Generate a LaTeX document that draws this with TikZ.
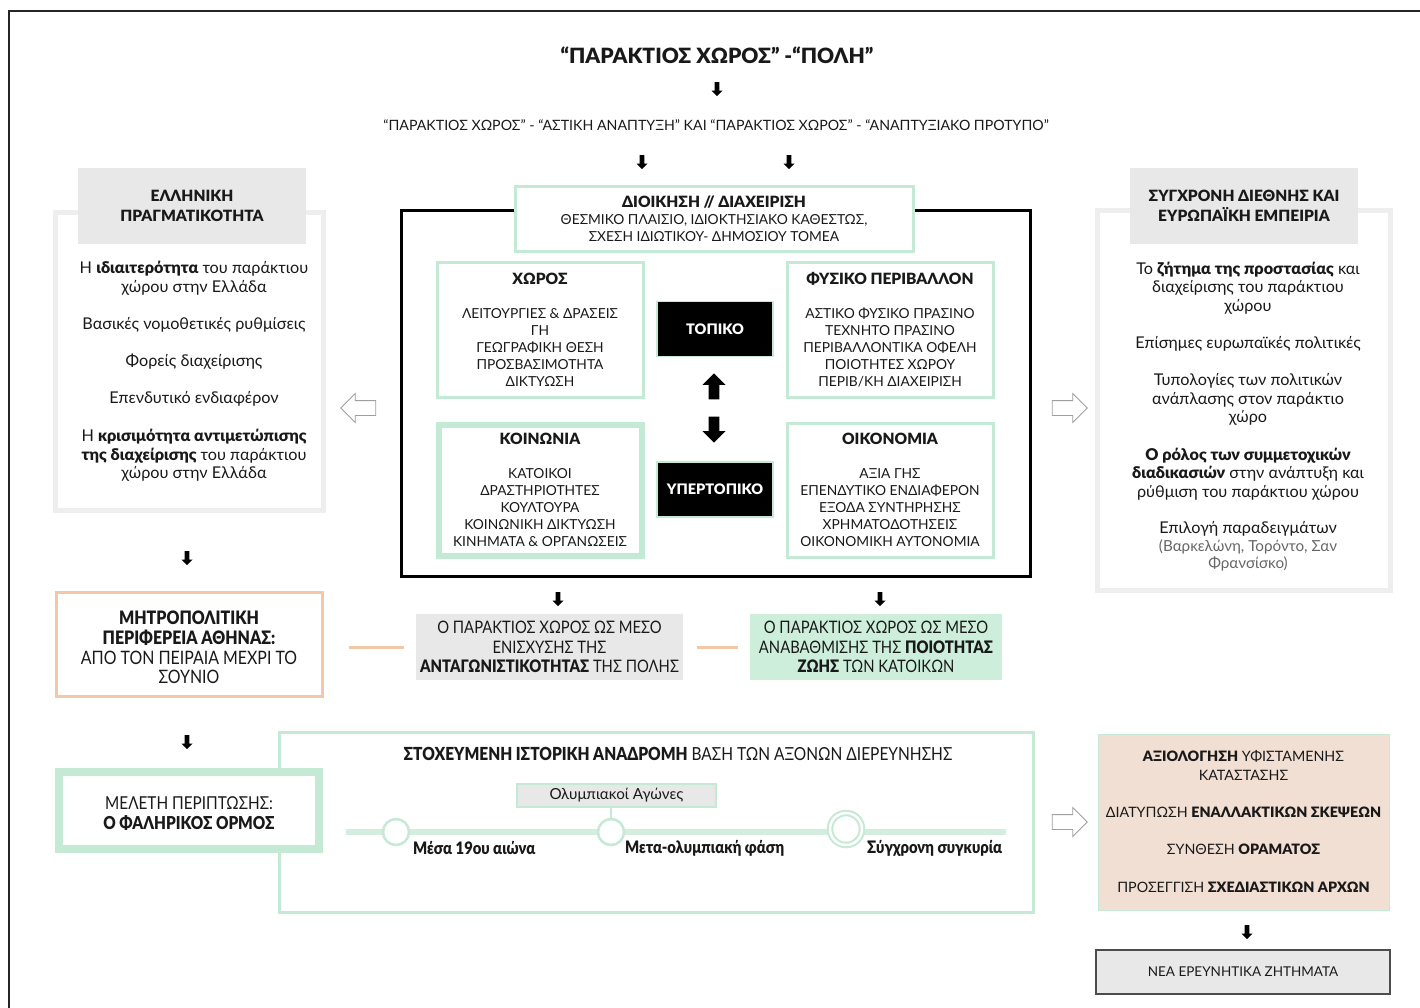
\documentclass[tikz,border=0pt]{standalone}
\usepackage{fontspec}
\setmainfont{Lato}[BoldFont={Lato Black}]
\newfontfamily\condfont{Lato}[FakeStretch=0.86, BoldFont={Lato Black}]
\usetikzlibrary{shapes.arrows}

\definecolor{mint}{RGB}{196,233,213}
\definecolor{mintfill}{RGB}{204,238,218}
\definecolor{graybox}{RGB}{232,232,232}
\definecolor{framegray}{RGB}{238,238,238}
\definecolor{peach}{RGB}{243,200,168}
\definecolor{peachfill}{RGB}{242,223,211}

\tikzset{
    base/.style={inner sep=0pt, align=center, text=black!90},
    body/.style={base, font=\fontsize{16.2}{18.6}\selectfont},
    cond/.style={base, font=\condfont\fontsize{17.2}{19.3}\selectfont},
    panel/.style={rectangle, draw=mint, line width=3pt, fill=white, inner sep=0pt, align=center,
        text=black!90, font=\fontsize{13.8}{17}\selectfont},
    header/.style={rectangle, fill=graybox, inner sep=0pt, align=center, text=black!90,
        font=\fontsize{15.5}{19.5}\selectfont\bfseries, minimum width=228pt, minimum height=76pt},
    sideframe/.style={rectangle, draw=framegray, line width=5pt, fill=white, inner sep=0pt},
    blackbox/.style={rectangle, fill=black, draw=mint, line width=1.5pt, text=white, inner sep=0pt,
        font=\fontsize{14.5}{17}\selectfont\bfseries, minimum width=116pt, minimum height=55pt},
    blockarrow/.style={single arrow, fill=black, draw=none, inner sep=2pt, minimum height=14pt,
        minimum width=11pt, single arrow head extend=3pt, shape border rotate=270},
    bigarrow/.style={single arrow, fill=black, draw=none, inner sep=5pt, minimum height=26pt,
        minimum width=23pt, single arrow head extend=6pt},
    openarrow/.style={single arrow, draw=gray!75, fill=white, line width=0.8pt, inner sep=7pt,
        minimum height=35pt, minimum width=28pt, single arrow head extend=7pt},
    peachline/.style={draw=peach, line width=3pt},
    stage/.style={circle, draw=mint, line width=2.5pt, fill=white, inner sep=0pt, minimum size=26pt},
    stagelabel/.style={base, anchor=west, font=\condfont\bfseries\fontsize{17.2}{18}\selectfont}
}

\begin{document}
\begin{tikzpicture}[x=1pt, y=-1pt]
    \useasboundingbox (0,0) rectangle (1420,1007);
    % Page frame
    \draw[line width=2.5pt, black!85] (9,1012) |- (1425,11);

    % Title and lead-in
    \node[base, font=\bfseries\fontsize{21}{26}\selectfont] (title) at (717,55)
        {“ΠΑΡΑΚΤΙΟΣ ΧΩΡΟΣ” -“ΠΟΛΗ”};
    \node[blockarrow] (a1) at (717,88) {};
    \node[base, font=\fontsize{14.2}{16}\selectfont] (theme) at (716,125)
        {“ΠΑΡΑΚΤΙΟΣ ΧΩΡΟΣ” - “ΑΣΤΙΚΗ ΑΝΑΠΤΥΞΗ” ΚΑΙ “ΠΑΡΑΚΤΙΟΣ ΧΩΡΟΣ” - “ΑΝΑΠΤΥΞΙΑΚΟ ΠΡΟΤΥΠΟ”};
    \node[blockarrow] (a2) at (642,161) {};
    \node[blockarrow] (a3) at (789,161) {};

    % Left column
    \node[sideframe, minimum width=268pt, minimum height=298pt] (lframe) at (189,361) {};
    \node[header] (lhead) at (192,206) {ΕΛΛΗΝΙΚΗ\\ΠΡΑΓΜΑΤΙΚΟΤΗΤΑ};
    \node[body] (l1) at (194,278.5) {Η \textbf{ιδιαιτερότητα} του παράκτιου\\χώρου στην Ελλάδα};
    \node[body] (l2) at (194,325) {Βασικές νομοθετικές ρυθμίσεις};
    \node[body] (l3) at (194,362) {Φορείς διαχείρισης};
    \node[body] (l4) at (194,399) {Επενδυτικό ενδιαφέρον};
    \node[body] (l5) at (194,455.5) {Η \textbf{κρισιμότητα αντιμετώπισης}\\\textbf{της διαχείρισης} του παράκτιου\\χώρου στην Ελλάδα};
    \node[openarrow, shape border rotate=180] (lout) at (362,408) {};

    % Right column
    \node[sideframe, minimum width=293pt, minimum height=380pt] (rframe) at (1243.5,400) {};
    \node[header] (rhead) at (1244,206) {ΣΥΓΧΡΟΝΗ ΔΙΕΘΝΗΣ ΚΑΙ\\ΕΥΡΩΠΑΪΚΉ ΕΜΠΕΙΡΙΑ};
    \node[body] (r1) at (1248,288) {Το \textbf{ζήτημα της προστασίας} και\\διαχείρισης του παράκτιου\\χώρου};
    \node[body] (r2) at (1248,344) {Επίσημες ευρωπαϊκές πολιτικές};
    \node[body] (r3) at (1248,399.5) {Τυπολογίες των πολιτικών\\ανάπλασης στον παράκτιο\\χώρο};
    \node[body] (r4) at (1248,474) {\textbf{Ο ρόλος των συμμετοχικών}\\\textbf{διαδικασιών} στην ανάπτυξη και\\ρύθμιση του παράκτιου χώρου};
    \node[body] (r5) at (1248,529) {Επιλογή παραδειγμάτων};
    \node[base, text=black!60, font=\fontsize{15.2}{17.5}\selectfont] (r6) at (1248,555.5)
        {(Βαρκελώνη, Τορόντο, Σαν\\Φρανσίσκο)};
    \node[openarrow] (rout) at (1066,408) {};

    % Central axes
    \node[rectangle, draw=black, line width=3pt, inner sep=0pt, minimum width=629pt,
        minimum height=366pt] (axes) at (715.5,393) {};
    \node[panel, minimum width=398pt, minimum height=65pt] (admin) at (714,218.5)
        {{\fontsize{15.5}{19}\selectfont\bfseries ΔΙΟΙΚΗΣΗ // ΔΙΑΧΕΙΡΙΣΗ}\\
         ΘΕΣΜΙΚΟ ΠΛΑΙΣΙΟ, ΙΔΙΟΚΤΗΣΙΑΚΟ ΚΑΘΕΣΤΩΣ,\\ΣΧΕΣΗ ΙΔΙΩΤΙΚΟΥ- ΔΗΜΟΣΙΟΥ ΤΟΜΕΑ};
    \node[panel, minimum width=206pt, minimum height=135pt] (space) at (540,329.5)
        {{\fontsize{15.5}{17}\selectfont\bfseries ΧΩΡΟΣ}\\[17pt]
         ΛΕΙΤΟΥΡΓΙΕΣ \& ΔΡΑΣΕΙΣ\\ΓΗ\\ΓΕΩΓΡΑΦΙΚΗ ΘΕΣΗ\\ΠΡΟΣΒΑΣΙΜΟΤΗΤΑ\\ΔΙΚΤΥΩΣΗ};
    \node[panel, minimum width=206pt, minimum height=135pt] (nature) at (890,329.5)
        {{\fontsize{15.5}{17}\selectfont\bfseries ΦΥΣΙΚΟ ΠΕΡΙΒΑΛΛΟΝ}\\[17pt]
         ΑΣΤΙΚΟ ΦΥΣΙΚΟ ΠΡΑΣΙΝΟ\\ΤΕΧΝΗΤΟ ΠΡΑΣΙΝΟ\\ΠΕΡΙΒΑΛΛΟΝΤΙΚΑ ΟΦΕΛΗ\\ΠΟΙΟΤΗΤΕΣ ΧΩΡΟΥ\\ΠΕΡΙΒ/ΚΗ ΔΙΑΧΕΙΡΙΣΗ};
    \node[panel, line width=6pt, minimum width=203pt, minimum height=131pt] (society) at (540,490)
        {{\fontsize{15.5}{17}\selectfont\bfseries ΚΟΙΝΩΝΙΑ}\\[17pt]
         ΚΑΤΟΙΚΟΙ\\ΔΡΑΣΤΗΡΙΟΤΗΤΕΣ\\ΚΟΥΛΤΟΥΡΑ\\ΚΟΙΝΩΝΙΚΗ ΔΙΚΤΥΩΣΗ\\ΚΙΝΗΜΑΤΑ \& ΟΡΓΑΝΩΣΕΙΣ};
    \node[panel, minimum width=206pt, minimum height=134pt] (economy) at (890,490)
        {{\fontsize{15.5}{17}\selectfont\bfseries ΟΙΚΟΝΟΜΙΑ}\\[17pt]
         ΑΞΙΑ ΓΗΣ\\ΕΠΕΝΔΥΤΙΚΟ ΕΝΔΙΑΦΕΡΟΝ\\ΕΞΟΔΑ ΣΥΝΤΗΡΗΣΗΣ\\ΧΡΗΜΑΤΟΔΟΤΗΣΕΙΣ\\ΟΙΚΟΝΟΜΙΚΗ ΑΥΤΟΝΟΜΙΑ};
    \node[blackbox] (local) at (715,329) {ΤΟΠΙΚΟ};
    \node[blackbox] (supra) at (715,489.5) {ΥΠΕΡΤΟΠΙΚΟ};
    \node[bigarrow, shape border rotate=90] (up) at (714,389) {};
    \node[bigarrow, shape border rotate=270] (down) at (714,427) {};

    % Outcomes
    \node[blockarrow] (a4) at (187,557) {};
    \node[blockarrow] (a6) at (558,598) {};
    \node[blockarrow] (a7) at (880,598) {};
    \node[rectangle, draw=peach, line width=3pt, fill=white, minimum width=266pt, minimum height=104pt,
        cond, font=\condfont\fontsize{18.5}{19.8}\selectfont, text height=80pt] (metro) at (189,644)
        {\textbf{ΜΗΤΡΟΠΟΛΙΤΙΚΗ}\\\textbf{ΠΕΡΙΦΕΡΕΙΑ ΑΘΗΝΑΣ:}\\ΑΠΟ ΤΟΝ ΠΕΙΡΑΙΑ ΜΕΧΡΙ ΤΟ\\ΣΟΥΝΙΟ};
    \node[rectangle, fill=graybox, minimum width=267pt, minimum height=66pt, cond] (compet) at (549.5,647)
        {Ο ΠΑΡΑΚΤΙΟΣ ΧΩΡΟΣ ΩΣ ΜΕΣΟ\\ΕΝΙΣΧΥΣΗΣ ΤΗΣ\\\textbf{ΑΝΤΑΓΩΝΙΣΤΙΚΟΤΗΤΑΣ} ΤΗΣ ΠΟΛΗΣ};
    \node[rectangle, fill=mintfill, minimum width=252pt, minimum height=66pt, cond] (quality) at (876,647)
        {Ο ΠΑΡΑΚΤΙΟΣ ΧΩΡΟΣ ΩΣ ΜΕΣΟ\\ΑΝΑΒΑΘΜΙΣΗΣ ΤΗΣ \textbf{ΠΟΙΟΤΗΤΑΣ}\\\textbf{ΖΩΗΣ} ΤΩΝ ΚΑΤΟΙΚΩΝ};
    \draw[peachline] ([xshift=25pt]metro.east |- compet.west) -- ([xshift=-12pt]compet.west);
    \draw[peachline] ([xshift=14pt]compet.east) -- ([xshift=-12pt]quality.west);

    % Timeline
    \node[blockarrow] (a5) at (187,741) {};
    \node[rectangle, draw=mint, line width=3pt, fill=white, minimum width=754pt, minimum height=180pt]
        (history) at (656,822) {};
    \node[base, font=\condfont\fontsize{18}{19}\selectfont] (htitle) at (678,754)
        {\textbf{ΣΤΟΧΕΥΜΕΝΗ ΙΣΤΟΡΙΚΗ ΑΝΑΔΡΟΜΗ} ΒΑΣΗ ΤΩΝ ΑΞΟΝΩΝ ΔΙΕΡΕΥΝΗΣΗΣ};
    \coordinate (tstart) at (346,832);
    \coordinate (tend) at (1006,832);
    \draw[mint!75, line width=6pt] (tstart) -- (tend);
    \node[rectangle, fill=graybox, draw=mint, line width=1.5pt, minimum width=199pt, minimum height=23pt,
        base, font=\fontsize{15.2}{17}\selectfont] (olymp) at (616.5,795.5) {Ολυμπιακοί Αγώνες};
    \node[stage] (s1) at (396,832) {};
    \node[stage] (s2) at (611,832) {};
    \node[stage, minimum size=32pt, line width=2pt, double=white, double distance=2.5pt] (s3) at (846,829) {};
    \draw[mint, line width=2.5pt] (s2 |- olymp.south) -- (s2.north);
    \node[stagelabel] (m1) at (413,848) {Μέσα 19ου αιώνα};
    \node[stagelabel] (m2) at (625,848) {Μετα-ολυμπιακή φάση};
    \node[stagelabel] (m3) at (867,848) {Σύγχρονη συγκυρία};
    \node[rectangle, draw=mint, line width=8pt, fill=white, minimum width=260pt, minimum height=77pt,
        cond, font=\condfont\fontsize{17.8}{20}\selectfont, text height=38.5pt] (case) at (189,810.5)
        {ΜΕΛΕΤΗ ΠΕΡΙΠΤΩΣΗΣ:\\\textbf{Ο ΦΑΛΗΡΙΚΟΣ ΟΡΜΟΣ}};

    % Proposals
    \node[openarrow] (pout) at (1066,822) {};
    \node[rectangle, fill=peachfill, draw=mint, line width=1pt, minimum width=291pt, minimum height=176pt,
        base, font=\fontsize{14.3}{19}\selectfont] (proposal) at (1243.5,822)
        {\textbf{ΑΞΙΟΛΟΓΗΣΗ} ΥΦΙΣΤΑΜΕΝΗΣ\\ΚΑΤΑΣΤΑΣΗΣ\\[18pt]
         ΔΙΑΤΥΠΩΣΗ \textbf{ΕΝΑΛΛΑΚΤΙΚΩΝ ΣΚΕΨΕΩΝ}\\[18pt]
         ΣΥΝΘΕΣΗ \textbf{ΟΡΑΜΑΤΟΣ}\\[19pt]
         ΠΡΟΣΕΓΓΙΣΗ \textbf{ΣΧΕΔΙΑΣΤΙΚΩΝ ΑΡΧΩΝ}};
    \node[blockarrow] (a8) at (1247,931) {};
    \node[rectangle, fill=graybox, draw=black!70, line width=1.5pt, minimum width=294pt, minimum height=44pt,
        base, font=\fontsize{13.5}{15}\selectfont] (newq) at (1243,972) {ΝΕΑ ΕΡΕΥΝΗΤΙΚΑ ΖΗΤΗΜΑΤΑ};
\end{tikzpicture}
\end{document}
